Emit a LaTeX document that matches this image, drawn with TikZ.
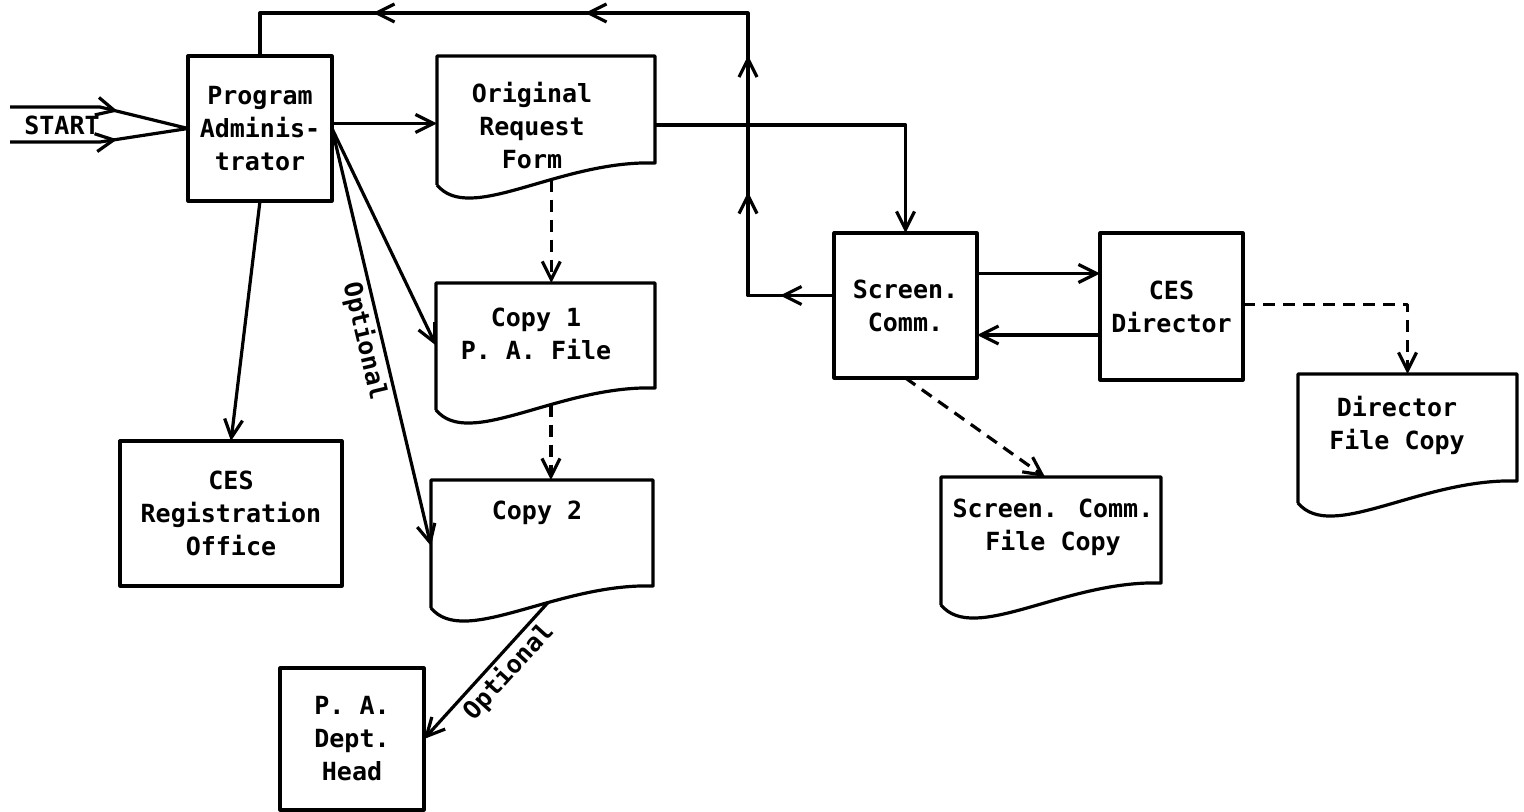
\documentclass[tikz,border=0pt]{standalone}
\usepackage{fontspec}
\setmainfont{DejaVu Sans Mono}
\usetikzlibrary{arrows.meta,calc,decorations.markings}
\newcommand\docpath[1]{%
  \draw[ln] ($(#1.south west)+(0,22)$) -- (#1.north west) -- (#1.north east) -- (#1.south east)
    .. controls +(-96,-3) and +(33,40) .. ($(#1.south west)+(0,22)$) coordinate[pos=0.38] (#1-b);}
\begin{document}
\begin{tikzpicture}[x=0.5pt,y=-0.5pt,
  >={Straight Barb[length=9pt,width=9pt]},
  ln/.style={line width=1.6pt, line join=round},
  dsh/.style={ln, dash pattern=on 6pt off 4pt},
  every node/.style={font=\fontsize{12.5}{16.5}\selectfont\bfseries},
  box/.style={draw, ln, rectangle, inner sep=0pt, outer sep=0pt, align=center},
  doc/.style={rectangle, inner sep=0pt, outer sep=0pt},
  txt/.style={align=center, inner sep=0pt},
  lbl/.style={sloped, inner sep=1.5pt}]
\useasboundingbox (0,0) rectangle (1524,812);
\fill[white] (0,0) rectangle (1524,812);

% boxes
\node[box, minimum width=72pt, minimum height=72.5pt] (pa) at (260,128.5) {Program\\Adminis-\\trator};
\node[box, minimum width=71.5pt, minimum height=72.5pt] (sc) at (905.5,305.5) {Screen.\\Comm.};
\node[box, minimum width=71.5pt, minimum height=73.5pt] (dir) at (1171.5,306.5) {CES\\Director};
\node[box, minimum width=111pt, minimum height=72.5pt] (reg) at (231,513.5) {CES\\Registration\\Office};
\node[box, minimum width=72pt, minimum height=71pt] (pad) at (352,739) {P. A.\\Dept.\\Head};

% documents
\node[doc, minimum width=109pt, minimum height=53.5pt] (orf) at (546,109.5) {};
\node[doc, minimum width=109.5pt, minimum height=52.5pt] (c1) at (545.5,335.5) {};
\node[doc, minimum width=111pt, minimum height=53pt] (c2) at (542,533) {};
\node[doc, minimum width=110pt, minimum height=53pt] (scfc) at (1051,530) {};
\node[doc, minimum width=109.5pt, minimum height=53.5pt] (dfc) at (1407.5,427.5) {};
\docpath{orf}
\docpath{c1}
\docpath{c2}
\docpath{scfc}
\docpath{dfc}
\node[txt] (orf-t) at (532,126) {Original\\Request\\Form};
\node[txt] (c1-t) at (536,334) {Copy 1\\P. A. File};
\node[txt] (c2-t) at (537,513) {Copy 2};
\node[txt] (scfc-t) at (1053,527) {Screen. Comm.\\File Copy};
\node[txt] (dfc-t) at (1397,425) {Director\\File Copy};

% start
\node[inner sep=0pt] (start) at (62,125) {START};
\coordinate (s1) at (10,107);
\coordinate (s1b) at (100,107);
\coordinate (s2) at (10,142);
\coordinate (s2b) at (100,142);
\draw[ln, postaction={decorate}, decoration={markings, mark=at position 0.6 with {\arrow{>}}}] (s1) -- (s1b) -- (pa.west);
\draw[ln, postaction={decorate}, decoration={markings, mark=at position 0.6 with {\arrow{>}}}] (s2) -- (s2b) -- (pa.west);

% PA to original request form
\coordinate (pae) at ($(pa.east)+(0,-5)$);
\draw[ln,->] (pae) -- (pae -| orf.west);
% original -> screening committee
\coordinate (orfe) at ($(orf.north east)+(0,69)$);
\draw[ln,->] (orfe) -| (sc.north);
% feedback loop
\coordinate (loop) at (748,13);
\coordinate (scw) at ($(sc.west)+(0,-10)$);
\draw[ln, postaction={decorate}, decoration={markings,
   mark=at position 27pt with {\arrow{>}},
   mark=at position 94.75pt with {\arrow{>}},
   mark=at position 163pt with {\arrow{>}},
   mark=at position 265.75pt with {\arrow{>}},
   mark=at position 371.75pt with {\arrow{>}}}]
   (scw) -| (loop) -| (pa.north);
% screening <-> director
\draw[ln,->] ($(sc.east)+(0,-32)$) -- ($(dir.west)+(0,-33)$);
\draw[ln,->] ($(dir.west)+(0,28.5)$) -- ($(sc.east)+(0,29.5)$);
% director -> director file copy
\draw[dsh,->] ($(dir.east)+(0,-2)$) -| (dfc.north);
% screening -> file copy
\draw[dsh,->] (sc.south) -- ($(scfc.north)+(-6,0)$);
% copies
\draw[dsh,->] (orf-b) -- (orf-b |- c1.north);
\draw[dsh,->] (c1-b) -- (c1-b |- c2.north);
% PA fan-out
\draw[ln,->] (pa.south) -- (reg.north);
\draw[ln,->] (pa.east) -- ($(c1.west)+(0,10)$);
\draw[ln,->] (pa.east) -- ($(c2.west)+(0,13)$) node[lbl, below, pos=0.5] {Optional};
\draw[ln,->] (c2-b) -- (pad.east) node[lbl, below, pos=0.42] {Optional};
\end{tikzpicture}
\end{document}
